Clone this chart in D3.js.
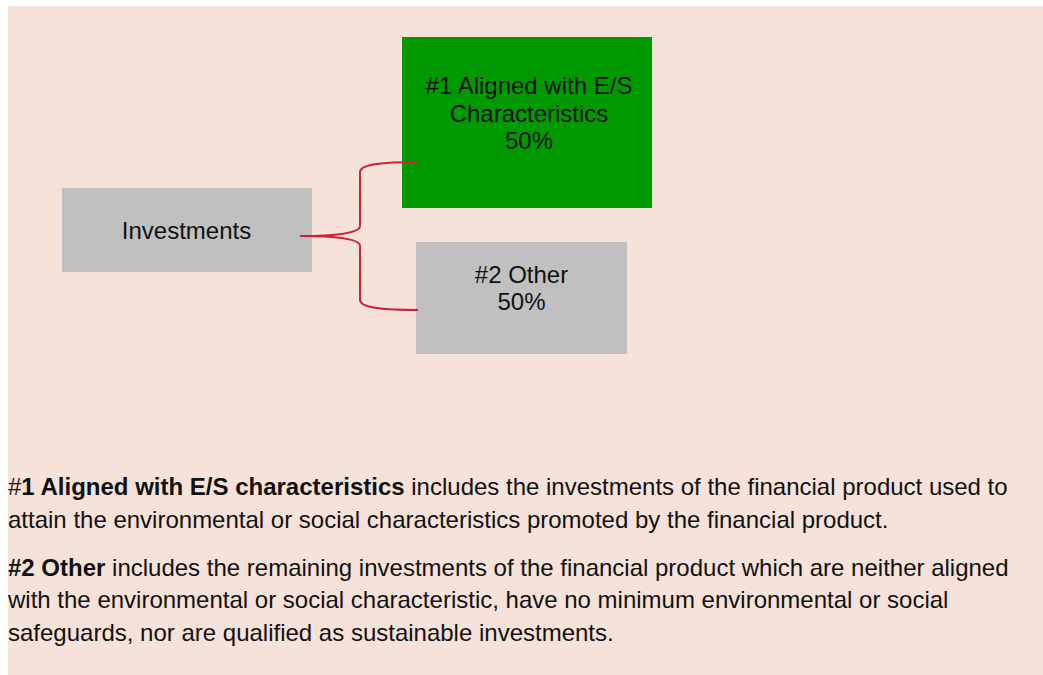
<!DOCTYPE html>
<html lang="en">

<head>
    <meta charset="UTF-8">
    <title>Asset allocation</title>
    <script src="https://d3js.org/d3.v7.min.js"></script>
    <style>
        body {
            margin: 0;
            background: #fff;
        }
        svg {
            display: block;
            font-family: Arial, "Liberation Sans", sans-serif;
        }
    </style>
</head>

<body>
    <div id="chart"></div>
    <script>
        // data
        const rootLabel = "Investments";
        const categories = ["#1 Aligned with E/S Characteristics", "#2 Other"];
        const categoryLines = [["#1 Aligned with E/S", "Characteristics"], ["#2 Other"]];
        const shares = [50, 50];
        const categoryColors = ["#009900", "#c0c0c0"];

        // footnotes, split into the lines as shown (b = bold run)
        const notes = [
            [
                [{ t: "#", b: false }, { t: "1 Aligned with E/S characteristics", b: true }, { t: " includes the investments of the financial product used to", b: false }],
                [{ t: "attain the environmental or social characteristics promoted by the financial product.", b: false }]
            ],
            [
                [{ t: "#2 Other", b: true }, { t: " includes the remaining investments of the financial product which are neither aligned", b: false }],
                [{ t: "with the environmental or social characteristic, have no minimum environmental or social", b: false }],
                [{ t: "safeguards, nor are qualified as sustainable investments.", b: false }]
            ]
        ];

        const width = 1043;
        const height = 675;
        const svg = d3.select("#chart")
            .append("svg")
            .attr("width", width)
            .attr("height", height);

        // panel
        svg.append("rect")
            .attr("x", 8)
            .attr("y", 6)
            .attr("width", width - 8)
            .attr("height", height - 6)
            .attr("fill", "#f6e2d8");

        // layout of the boxes
        const rootBox = { x: 62, y: 188, w: 250, h: 84 };
        const childBoxes = [
            { x: 402, y: 37, w: 250, h: 171 },
            { x: 416, y: 242, w: 211, h: 112 }
        ];
        const fontSize = 24;
        const lineH = 27.6;

        // root node
        svg.append("rect")
            .attr("x", rootBox.x).attr("y", rootBox.y)
            .attr("width", rootBox.w).attr("height", rootBox.h)
            .attr("fill", "#c0c0c0");
        svg.append("text")
            .attr("x", rootBox.x + rootBox.w / 2 - 0.5)
            .attr("y", 239)
            .attr("text-anchor", "middle")
            .attr("font-size", fontSize)
            .attr("fill", "#111")
            .text(rootLabel);

        // child nodes
        const children = categories.map((c, i) => ({
            name: c,
            lines: categoryLines[i].concat([shares[i] + "%"]),
            color: categoryColors[i],
            box: childBoxes[i]
        }));

        const g = svg.selectAll("g.child")
            .data(children)
            .enter()
            .append("g")
            .attr("class", "child");

        g.append("rect")
            .attr("x", d => d.box.x)
            .attr("y", d => d.box.y)
            .attr("width", d => d.box.w)
            .attr("height", d => d.box.h)
            .attr("fill", d => d.color);

        // first baselines
        const firstBaseline = [94, 282.5];
        g.each(function (d, i) {
            const t = d3.select(this).append("text")
                .attr("text-anchor", "middle")
                .attr("font-size", fontSize)
                .attr("fill", "#111");
            d.lines.forEach((ln, j) => {
                t.append("tspan")
                    .attr("x", d.box.x + d.box.w / 2 + (i === 0 ? 2 : 0))
                    .attr("y", firstBaseline[i] + j * lineH)
                    .text(ln);
            });
        });

        // brace connector
        const mx = 300, my = 236, bx = 360, ex = 418;
        const ends = [162, 310];
        const brace = d3.path();
        ends.forEach(ey => {
            const s = ey < my ? -1 : 1;
            brace.moveTo(mx, my);
            brace.bezierCurveTo(mx + 36, my, bx, my + s * 3, bx, my + s * 10);
            brace.lineTo(bx, ey - s * 10);
            brace.bezierCurveTo(bx, ey - s * 2, bx + 24, ey, ex, ey);
        });
        svg.append("path")
            .attr("d", brace.toString())
            .attr("fill", "none")
            .attr("stroke", "#d0213a")
            .attr("stroke-width", 2);

        // footnotes
        const baselines = [[495, 527.5], [575.5, 608, 640.5]];
        const foot = svg.append("g")
            .attr("font-size", fontSize)
            .attr("fill", "#111");
        notes.forEach((para, p) => {
            para.forEach((line, l) => {
                const t = foot.append("text")
                    .attr("x", 8)
                    .attr("y", baselines[p][l]);
                line.forEach(run => {
                    t.append("tspan")
                        .attr("font-weight", run.b ? "bold" : "normal")
                        .text(run.t);
                });
            });
        });
    </script>
</body>

</html>
